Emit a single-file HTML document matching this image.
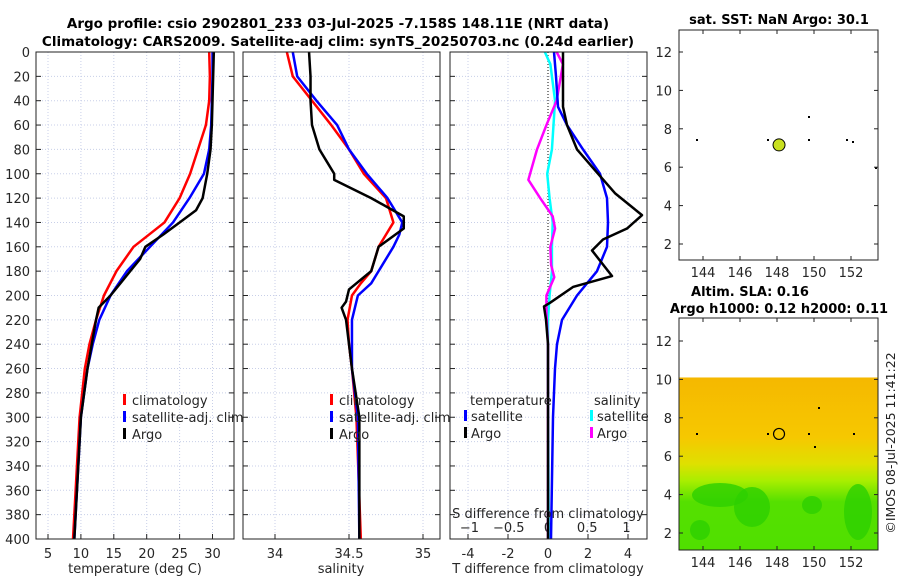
<!DOCTYPE html>
<html><head><meta charset="utf-8"><style>
body{margin:0;background:#fff;}
svg{display:block;font-family:"DejaVu Sans","Liberation Sans",sans-serif;}
</style></head><body>
<svg id="fig" width="900" height="580" viewBox="0 0 900 580" xmlns="http://www.w3.org/2000/svg">
<text x="338" y="28" font-size="13.5" font-weight="bold" text-anchor="middle" fill="#000">Argo profile: csio 2902801_233 03-Jul-2025 -7.158S 148.11E (NRT data)</text>
<text x="338" y="46" font-size="13.5" font-weight="bold" text-anchor="middle" fill="#000">Climatology: CARS2009. Satellite-adj clim: synTS_20250703.nc (0.24d earlier)</text>
<text x="779" y="24" font-size="13" font-weight="bold" text-anchor="middle">sat. SST: NaN Argo: 30.1</text>
<text x="750" y="296" font-size="13" font-weight="bold" text-anchor="middle">Altim. SLA: 0.16</text>
<text x="779" y="313" font-size="13" font-weight="bold" text-anchor="middle">Argo h1000: 0.12 h2000: 0.11</text>
<text transform="translate(895,443) rotate(-90)" font-size="12.5" text-anchor="middle" fill="#222">©IMOS 08-Jul-2025 11:41:22</text>
<g id="g"></g>
</svg>
<script>
// ---- data ----
const depths = [0,20,40,60,80,100,120,140,160,180,200,220,240,260,300,400];
const tClim  = [29.5,29.6,29.5,29.0,27.8,26.6,25.0,22.7,18.0,15.4,13.5,12.3,11.3,10.6,9.8,8.8];
const tSat   = [30.0,30.0,29.9,29.8,29.5,28.7,26.5,24.0,20.5,17.0,14.5,12.8,11.8,11.0,10.0,9.0];
const argoDepths = [0,20,40,60,80,100,120,130,140,150,160,170,180,190,200,210,220,260,300,400];
const tArgo  = [30.2,30.1,30.0,29.9,29.7,29.2,28.5,27.5,25.0,22.5,19.8,19.0,17.5,16.0,14.5,12.7,12.3,11.0,10.0,9.0];
const sDepths = [0,20,40,60,80,100,120,140,150,160,180,190,200,220,240,260,300,400];
const sClim = [34.08,34.12,34.25,34.38,34.5,34.6,34.75,34.8,34.75,34.7,34.65,34.58,34.52,34.49,34.5,34.52,34.55,34.58];
const sSat  = [34.12,34.15,34.28,34.42,34.5,34.62,34.76,34.86,34.84,34.8,34.7,34.65,34.56,34.52,34.52,34.52,34.56,34.57];
const sArgoDepths = [0,20,40,60,80,90,100,105,120,135,145,160,180,195,205,210,220,240,260,300,400];
const sArgo = [34.23,34.24,34.24,34.25,34.3,34.35,34.4,34.4,34.65,34.87,34.87,34.7,34.65,34.5,34.48,34.45,34.48,34.5,34.52,34.57,34.57];
const dDepths = [0,20,45,60,80,99,116,134,145,154,163,184,193,206,209,220,240,400];
const dTArgo = [0.75,0.75,0.75,0.95,1.45,2.45,3.35,4.7,3.95,2.75,2.2,3.2,1.25,0.1,-0.2,-0.1,0,0];
const satDepths = [0,20,45,60,80,100,120,140,160,180,200,220,240,260,300,400];
const dTSat = [0.3,0.4,0.5,0.95,1.75,2.6,2.95,3.0,2.95,2.45,1.45,0.7,0.45,0.35,0.25,0.15];
const cyDepths = [0,10,40,80,100,120,140,160,180,200,220,260,400];
const dSSat = [-0.04,0.03,0.09,0.05,-0.01,0.02,0.06,0.05,0.05,0.02,0.0,0.0,0.01];
const mgDepths = [0,10,40,60,80,105,120,135,145,160,175,185,200,215,240,400];
const dSArgo = [0.11,0.19,0.11,-0.02,-0.14,-0.25,-0.1,0.06,0.09,0.03,0.04,0.08,-0.02,-0.02,0,0];
const yTicks = [0,20,40,60,80,100,120,140,160,180,200,220,240,260,280,300,320,340,360,380,400];
const tTicks = [5,10,15,20,25,30];
const sTicks = [34,34.5,35];
const dTTicks = [-4,-2,0,2,4];
const dSTicks = [-1,-0.5,0,0.5,1];
const lonTicks = [144,146,148,150,152];
const latTicks = [2,4,6,8,10,12];

const NS="http://www.w3.org/2000/svg";
const G=document.getElementById('g');
function el(tag,attrs,parent){const e=document.createElementNS(NS,tag);for(const k in attrs)e.setAttribute(k,attrs[k]);(parent||G).appendChild(e);return e;}
function txt(x,y,s,size,anchor,parent){const t=el('text',{x:x,y:y,'font-size':size,'text-anchor':anchor||'middle',fill:'#262626'},parent);t.textContent=s;return t;}

const Y0=52,Y1=539;
const yS=d=>Y0+(d/400)*(Y1-Y0);
const xT=v=>48+(v-5)*6.58;
const xS=v=>275+(v-34)*148;
const xDT=v=>548+v*20;
const xDS=v=>548+v*78.5;

function panel(name,x0,x1,xTickVals,xf,labelY,tickLabels){
  const g=el('g',{});
  
  
  xTickVals.forEach(v=>{el('line',{x1:xf(v),x2:xf(v),y1:Y0,y2:Y1,stroke:'#c8cfe8','stroke-dasharray':'1,2','stroke-width':1},g);});
  yTicks.forEach(d=>{el('line',{x1:x0,x2:x1,y1:yS(d),y2:yS(d),stroke:'#c8cfe8','stroke-dasharray':'1,2','stroke-width':1},g);
    el('line',{x1:x0,x2:x0+5,y1:yS(d),y2:yS(d),stroke:'#222'},g);el('line',{x1:x1-5,x2:x1,y1:yS(d),y2:yS(d),stroke:'#222'},g);});
  if(tickLabels){xTickVals.forEach(v=>{el('line',{x1:xf(v),x2:xf(v),y1:Y1,y2:Y1-5,stroke:'#222'},g);txt(xf(v),labelY,String(v),13,'middle',g);});}
  return g;
}
function line(g,name,xs,ds,xf,color,w){
  const p=el('polyline',{points:xs.map((v,i)=>xf(v)+','+yS(ds[i])).join(' '),fill:'none',stroke:color,'stroke-width':w||2.5,'stroke-linejoin':'round'},g);
  
  
}
function frame(g,x0,x1){el('rect',{x:x0,y:Y0,width:x1-x0,height:Y1-Y0,fill:'none',stroke:'#222','stroke-width':1},g);}
function legend(g,x,items){
  items.forEach((it,i)=>{const y=400+i*17;el('rect',{x:x,y:y-6,width:3,height:11,fill:it[1]},g);
    const t=txt(x+9,y+5,it[0],13,'start',g);
    
    });
}

// panel 1
const p1=panel('temperature-panel',36,234,tTicks,xT,558,true);
// y labels
yTicks.forEach(d=>{txt(30,yS(d)+5,String(d),13,'end',p1);});
line(p1,'temp-climatology-line',tClim,depths,xT,'#ff0000');
line(p1,'temp-satellite-line',tSat,depths,xT,'#0000ff');
line(p1,'temp-argo-line',tArgo,argoDepths,xT,'#000');
legend(p1,123,[['climatology','#ff0000'],['satellite-adj. clim','#0000ff'],['Argo','#000']]);
frame(p1,36,234);
const xl1=txt(135,573,'temperature (deg C)',13,'middle',p1);

// panel 2
const p2=panel('salinity-panel',243,440,sTicks,xS,558,true);
line(p2,'sal-climatology-line',sClim,sDepths,xS,'#ff0000');
line(p2,'sal-satellite-line',sSat,sDepths,xS,'#0000ff');
line(p2,'sal-argo-line',sArgo,sArgoDepths,xS,'#000');
legend(p2,330,[['climatology','#ff0000'],['satellite-adj. clim','#0000ff'],['Argo','#000']]);
frame(p2,243,440);
const xl2=txt(341,573,'salinity',13,'middle',p2);

// panel 3
const p3=panel('difference-panel',450,647,dTTicks,xDT,558,true);
dSTicks.forEach(v=>{txt(xDS(v),532,String(v).replace('-','\u2212'),13,'middle',p3);});
el('line',{x1:548,x2:548,y1:Y0,y2:Y1,stroke:'#333','stroke-dasharray':'1,2','stroke-width':1.2},p3);
line(p3,'sal-diff-satellite-line',dSSat,cyDepths,xDS,'#00ffff');
line(p3,'sal-diff-argo-line',dSArgo,mgDepths,xDS,'#ff00ff');
line(p3,'temp-diff-satellite-line',dTSat,satDepths,xDT,'#0000ff');
line(p3,'temp-diff-argo-line',dTArgo,dDepths,xDT,'#000');
txt(470,405,'temperature',13,'start',p3);txt(594,405,'salinity',13,'start',p3);
[['satellite','#0000ff',464,421],['Argo','#000',464,438],['satellite','#00ffff',590,421],['Argo','#ff00ff',590,438]].forEach(it=>{
  el('rect',{x:it[2],y:it[3]-11,width:3,height:11,fill:it[1]},p3);txt(it[2]+7,it[3],it[0],13,'start',p3);});
frame(p3,450,647);
const xl3a=txt(548,518,'S difference from climatology',13,'middle',p3);
const xl3b=txt(548,573,'T difference from climatology',13,'middle',p3);

// maps
const mx=v=>703+(v-144)*18.5;
function map(name,top,latAt){
  const g=el('g',{});
  
  
  return g;
}
const my1=v=>244-(v-2)*19.2;
const my2=v=>533-(v-2)*19.2;
// SLA map colour field
const m2=map('sla-map',318);
const defs=el('defs',{});
const lg=el('linearGradient',{id:'slag',x1:0,y1:0,x2:0,y2:1},defs);
[[0,'#f5b800'],[0.35,'#f6c800'],[0.5,'#dfe000'],[0.6,'#a8ee00'],[0.72,'#55e000'],[1,'#50e000']].forEach(s=>el('stop',{offset:s[0],'stop-color':s[1]},lg));
el('rect',{x:679,y:my2(10.1),width:199,height:550-my2(10.1),fill:'url(#slag)'},m2);
[[720,495,28,12],[752,507,18,20],[812,505,10,9],[858,512,14,28],[700,530,10,10]].forEach(b=>el('ellipse',{cx:b[0],cy:b[1],rx:b[2],ry:b[3],fill:'#2dd000',opacity:0.8},m2));
el('circle',{cx:mx(148.11),cy:my2(7.16),r:5.5,fill:'none',stroke:'#000','stroke-width':1.2},m2);
[[696,433],[767,433],[808,433],[853,433],[814,446],[818,407]].forEach(p=>el('rect',{x:p[0],y:p[1],width:2,height:2,fill:'#000'},m2));
const m1=map('sst-map',30);
el('circle',{cx:mx(148.11),cy:my1(7.16),r:6,fill:'#c8e020',stroke:'#000','stroke-width':1},m1);
[[696,139],[767,139],[808,116],[808,139],[846,139],[852,141],[875,167]].forEach(p=>el('rect',{x:p[0],y:p[1],width:2,height:2,fill:'#000'},m1));
[[m1,30,260,my1],[m2,318,550,my2]].forEach(a=>{
  const [g,t,b,myf]=a;
  el('rect',{x:679,y:t,width:199,height:b-t,fill:'none',stroke:'#222'},g);
  lonTicks.forEach(v=>{el('line',{x1:mx(v),x2:mx(v),y1:b,y2:b-4,stroke:'#222'},g);el('line',{x1:mx(v),x2:mx(v),y1:t,y2:t+4,stroke:'#222'},g);txt(mx(v),b+17,String(v),13,'middle',g);});
  latTicks.forEach(v=>{el('line',{x1:679,x2:683,y1:myf(v),y2:myf(v),stroke:'#222'},g);el('line',{x1:874,x2:878,y1:myf(v),y2:myf(v),stroke:'#222'},g);txt(672,myf(v)+5,String(v),13,'end',g);});
});
</script>
</body></html>
